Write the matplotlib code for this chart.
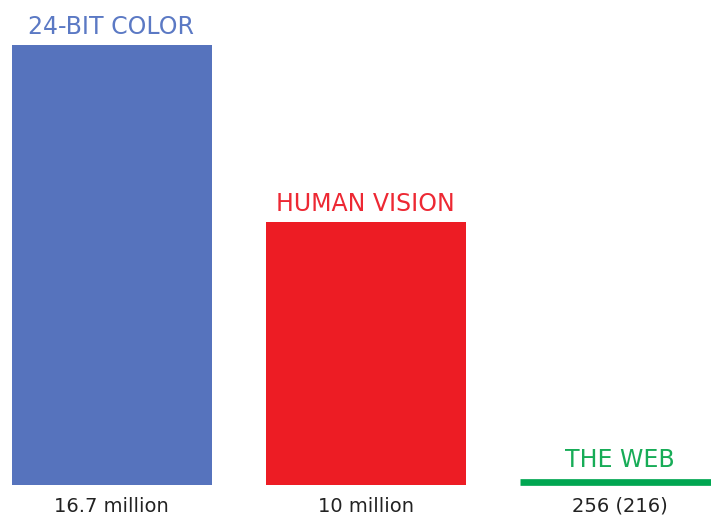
import matplotlib
matplotlib.use("Agg")
import matplotlib.pyplot as plt
import matplotlib.transforms as mtransforms

categories = ["24-BIT COLOR", "HUMAN VISION", "THE WEB"]
values = [16.7e6, 10e6, 256]
value_labels = ["16.7 million", "10 million", "256 (216)"]
bar_colors = ["#5673BD", "#ED1C24", "#00A651"]
text_colors = ["#5B79C4", "#ED2833", "#17AC57"]

fig = plt.figure(figsize=(7.11, 5.17), dpi=100)
ax = fig.add_axes([0, 32 / 517, 1, 485 / 517])
ax.set_xlim(-111.5 / 254, (711 - 111.5) / 254)
ax.set_ylim(0, 16.7e6 * 485 / 440)
ax.axis("off")

width = 200 / 254
xs = list(range(len(values)))
line_px = 6.7
bars = ax.bar(xs, values, width=width, color=bar_colors)

for x, v, cat, lab, bc, tc in zip(xs, values, categories, value_labels, bar_colors, text_colors):
    top_px = ax.transData.transform((x, v))[1]
    bottom_px = ax.transData.transform((x, 0))[1]
    extra = 0
    if top_px - bottom_px < 2:
        # tiny value: draw a visible line at the bar's top
        off = mtransforms.ScaledTranslation(0, line_px / 2 / 100, fig.dpi_scale_trans)
        ax.plot([x - width / 2, x + width / 2], [v, v], color=bc, lw=line_px * 72 / 100,
                solid_capstyle="butt", transform=ax.transData + off, clip_on=False)
        extra = line_px
    ax.annotate(cat, xy=(x, v), xytext=(0, (11 + extra) * 72 / 100), textcoords="offset points",
                ha="center", va="baseline", fontsize=17, color=tc, annotation_clip=False)
    ax.annotate(lab, xy=(x, 0), xytext=(0, -27 * 72 / 100), textcoords="offset points",
                ha="center", va="baseline", fontsize=14, color="#222222", annotation_clip=False)

fig.savefig("out.png", dpi=100)
